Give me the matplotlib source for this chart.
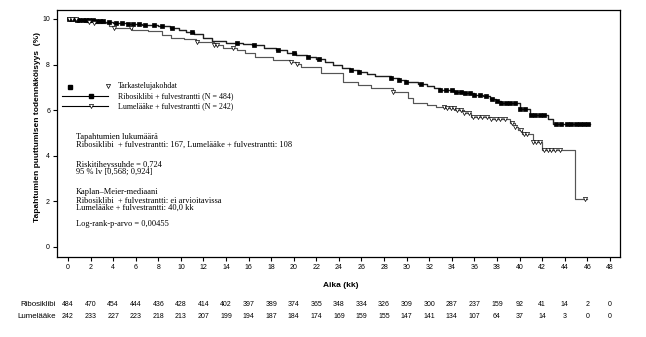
import numpy as np
import matplotlib
matplotlib.use("Agg")
import matplotlib.pyplot as plt

SANS = "Liberation Sans"
SERIF = "Liberation Serif"

# Kaplan-Meier steps (months, survival x10)
ribo_times = [0, 0.6, 1.4, 2.3, 3.2, 4.0, 5.2, 6.6, 8.0, 9.0, 9.8, 10.5, 11.2, 12.0, 12.8,
              14.0, 15.5, 16.3, 17.4, 18.4, 19.4, 20.2, 21.2, 22.0, 22.8, 23.5, 24.3, 25.0,
              25.8, 26.5, 27.2, 28.6, 29.3, 29.9, 31.0, 31.8, 32.4, 33.0, 34.2, 35.2, 36.0,
              36.8, 37.4, 37.9, 38.4, 40.0, 40.9, 42.5, 43.0]
ribo_surv = [10.0, 9.97, 9.94, 9.9, 9.86, 9.8, 9.76, 9.72, 9.68, 9.6, 9.5, 9.42, 9.32, 9.18,
             9.02, 8.96, 8.92, 8.86, 8.74, 8.62, 8.5, 8.42, 8.33, 8.25, 8.12, 7.98, 7.86, 7.77,
             7.69, 7.58, 7.5, 7.42, 7.32, 7.24, 7.16, 7.06, 6.97, 6.89, 6.8, 6.74, 6.67, 6.6,
             6.5, 6.4, 6.3, 6.05, 5.8, 5.62, 5.39]
ribo_end = 46.2
ribo_censor = [0.1, 0.3, 0.5, 0.8, 1.0, 1.3, 1.6, 1.9, 2.2, 2.5, 2.8, 3.1, 3.6, 4.3, 4.8, 5.3,
               5.8, 6.3, 6.8, 7.6, 8.3, 9.2, 11.0, 15.0, 16.5, 18.6, 20.0, 21.3, 22.2, 25.1,
               25.8, 28.6, 29.3, 29.9, 31.3, 33.0, 33.5, 34.0, 34.4, 34.8, 35.2, 35.6, 36.0,
               36.5, 37.0, 37.6, 38.0, 38.4, 38.8, 39.2, 39.6, 40.0, 40.5, 41.0, 41.4, 41.8,
               42.2, 43.2, 43.7, 44.2, 44.6, 45.0, 45.4, 45.7, 46.1]

lume_times = [0, 0.8, 1.6, 2.3, 3.6, 4.1, 5.7, 7.1, 8.3, 9.1, 10.3, 11.3, 12.9, 13.7, 15.0,
              15.7, 16.6, 18.2, 19.7, 20.2, 20.6, 22.4, 24.4, 25.7, 26.8, 28.8, 30.1, 30.6,
              31.8, 32.6, 33.4, 34.3, 35.1, 35.7, 37.5, 39.2, 39.6, 39.9, 40.2, 41.2, 42.0, 44.9]
lume_surv = [10.0, 9.95, 9.88, 9.8, 9.7, 9.6, 9.5, 9.45, 9.3, 9.17, 9.1, 9.0, 8.86, 8.72, 8.64,
             8.5, 8.35, 8.2, 8.13, 8.03, 7.9, 7.62, 7.25, 7.1, 6.99, 6.81, 6.53, 6.33, 6.22,
             6.15, 6.08, 6.0, 5.86, 5.7, 5.6, 5.44, 5.28, 5.15, 4.95, 4.6, 4.25, 2.1]
lume_end = 46.0
lume_censor = [0.1, 0.4, 0.7, 1.9, 2.3, 4.1, 5.6, 11.4, 12.9, 13.2, 14.6, 19.8, 20.3, 28.8,
               33.3, 33.6, 33.9, 34.2, 34.5, 34.8, 35.1, 35.5, 35.9, 36.3, 36.7, 37.1, 37.5,
               37.9, 38.3, 38.7, 39.3, 39.6, 40.1, 40.4, 40.7, 41.2, 41.5, 41.8, 42.2, 42.5,
               42.8, 43.1, 43.6, 45.8]

# numbers at risk
risk_times = [0, 2, 4, 6, 8, 10, 12, 14, 16, 18, 20, 22, 24, 26, 28, 30, 32, 34, 36, 38, 40,
              42, 44, 46, 48]
ribo_risk = [484, 470, 454, 444, 436, 428, 414, 402, 397, 389, 374, 365, 348, 334, 326, 309,
             300, 287, 237, 159, 92, 41, 14, 2, 0]
lume_risk = [242, 233, 227, 223, 218, 213, 207, 199, 194, 187, 184, 174, 169, 159, 155, 147,
             141, 134, 107, 64, 37, 14, 3, 0, 0]

stats_lines = [
    (4.82, "Tapahtumien lukumäärä"),
    (4.47, "Ribosiklibi  + fulvestrantti: 167, Lumelääke + fulvestrantti: 108"),
    (3.60, "Riskitiheyssuhde = 0,724"),
    (3.29, "95 % lv [0,568; 0,924]"),
    (2.41, "Kaplan–Meier-mediaani"),
    (2.02, "Ribosiklibi  + fulvestrantti: ei arvioitavissa"),
    (1.71, "Lumelääke + fulvestrantti: 40,0 kk"),
    (1.00, "Log-rank-p-arvo = 0,00455"),
]


def step_value(times, surv, t):
    idx = np.searchsorted(times, t, side="right") - 1
    return np.asarray(surv)[idx]


def draw_arm(ax, times, surv, end, censor, color, lw, marker, mfc, ms):
    x = list(times) + [end]
    y = list(surv) + [surv[-1]]
    ax.step(x, y, where="post", color=color, lw=lw, zorder=2)
    cy = step_value(times, surv, censor)
    ax.plot(censor, cy, ls="none", marker=marker, ms=ms, mfc=mfc,
            mec="black", mew=0.5, zorder=3)


fig = plt.figure(figsize=(6.46, 3.37), dpi=100)
ax = fig.add_axes([57 / 646, 1 - 257 / 337, 563 / 646, 247 / 337])

draw_arm(ax, ribo_times, ribo_surv, ribo_end, ribo_censor, "#1e1e1e", 1.0, "s", "black", 2.4)
draw_arm(ax, lume_times, lume_surv, lume_end, lume_censor, "#555555", 0.85, "v", "white", 3.0)

ax.set_xlim(-0.97, 48.9)
ax.set_ylim(-0.44, 10.39)
ax.set_xticks(risk_times)
ax.set_yticks([0, 2, 4, 6, 8, 10])
ax.tick_params(direction="out", length=3, width=0.8, labelsize=5, pad=2)
for lab in ax.get_xticklabels() + ax.get_yticklabels():
    lab.set_fontfamily(SANS)
for sp in ax.spines.values():
    sp.set_linewidth(0.9)

ax.set_xlabel("Aika (kk)", fontsize=6, fontweight="bold", fontfamily=SANS)
ax.xaxis.set_label_coords(0.504, -0.117)
ax.xaxis.label.set_va("center")
ax.set_ylabel("Tapahtumien puuttumisen todennäköisyys  (%)", fontsize=6,
              fontweight="bold", fontfamily=SANS)
ax.yaxis.set_label_coords(-0.034, 0.526)
ax.yaxis.label.set_va("center")

# legend drawn by hand
ax.plot([0.18], [7.02], ls="none", marker="s", ms=2.4, color="black")
ax.plot([3.54], [7.06], ls="none", marker="v", ms=3.0, mfc="white", mec="black", mew=0.5)
ax.text(4.43, 7.06, "Tarkastelujakohdat", fontsize=5.7, fontfamily=SERIF, va="center")
ax.plot([-0.53, 3.54], [6.6, 6.6], color="black", lw=0.8)
ax.plot([2.04], [6.6], ls="none", marker="s", ms=2.4, color="black")
ax.text(4.43, 6.62, "Ribosiklibi + fulvestrantti (N = 484)", fontsize=5.7,
        fontfamily=SERIF, va="center")
ax.plot([-0.53, 3.54], [6.18, 6.18], color="black", lw=0.8)
ax.plot([2.04], [6.18], ls="none", marker="v", ms=3.0, mfc="white", mec="black", mew=0.5)
ax.text(4.43, 6.18, "Lumelääke + fulvestrantti (N = 242)", fontsize=5.7,
        fontfamily=SERIF, va="center")

for y, s in stats_lines:
    ax.text(0.71, y, s, fontsize=6.0, fontfamily=SERIF, va="center")

# numbers-at-risk table below the axis
tr = ax.get_xaxis_transform()
ax.text(-0.002, -0.194, "Ribosiklibi", transform=ax.transAxes, ha="right", va="center",
        fontsize=5.7, fontfamily=SANS)
ax.text(-0.002, -0.239, "Lumelääke", transform=ax.transAxes, ha="right", va="center",
        fontsize=5.7, fontfamily=SANS)
for t, r, l in zip(risk_times, ribo_risk, lume_risk):
    ax.text(t, -0.194, str(r), transform=tr, ha="center", va="center", fontsize=5,
            fontfamily=SANS)
    ax.text(t, -0.239, str(l), transform=tr, ha="center", va="center", fontsize=5,
            fontfamily=SANS)

fig.savefig("out.png", dpi=100)
